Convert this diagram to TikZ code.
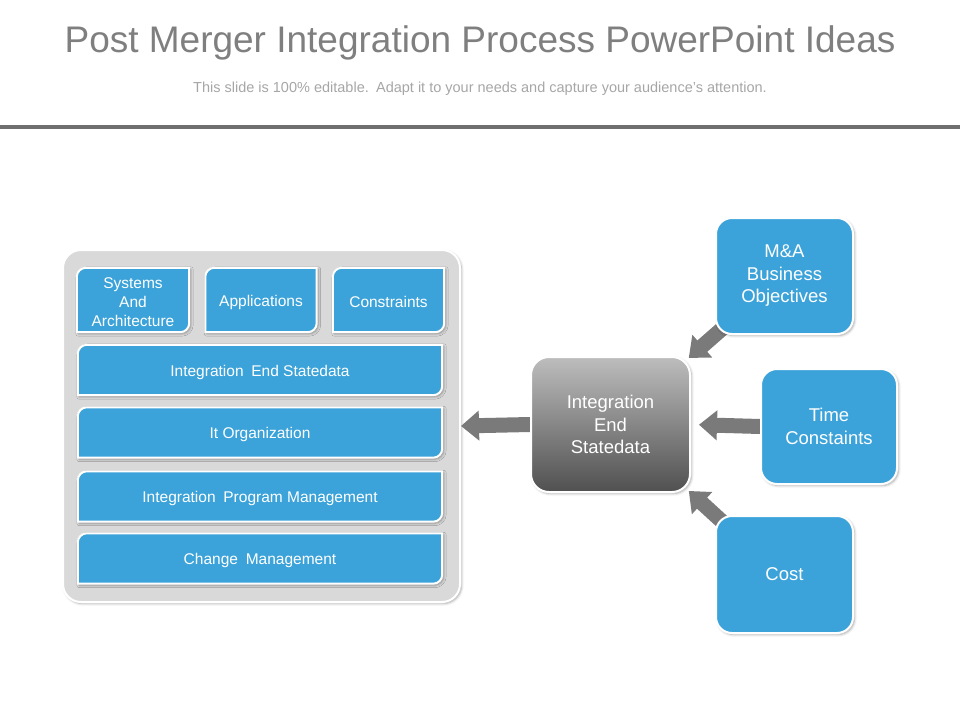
\documentclass[tikz,border=0pt]{standalone}
\usepackage{fontspec}
\setmainfont{Liberation Sans}
\usetikzlibrary{arrows.meta,shadows.blur,calc}
\pgfdeclarelayer{background}
\pgfsetlayers{background,main}
\definecolor{blu}{HTML}{3BA3D9}
\definecolor{panelgray}{HTML}{D9D9D9}
\definecolor{titlegray}{HTML}{7F7F7F}
\definecolor{subgray}{HTML}{A6A6A6}
\definecolor{rulegray}{HTML}{6F6F6F}
\definecolor{arrowgray}{HTML}{7A7A7A}
\definecolor{ctrtop}{HTML}{BDBDBD}
\definecolor{ctrbot}{HTML}{505050}
\tikzset{
  shadowed/.style={blur shadow={shadow xshift=1.5pt,shadow yshift=-1.5pt,shadow opacity=35,shadow blur radius=2.5pt}},
  lbl/.style={rectangle,text=white,align=center,inner sep=0pt,font=\fontsize{15.5}{19}\selectfont},
  bluefill/.style={fill=blu,draw=white,line width=2pt,shadowed},
  bigbox/.style={rectangle,rounded corners=16pt,fill=blu,draw=white,line width=2pt,shadowed,
    text=white,align=center,font=\fontsize{18.5}{22.5}\selectfont,minimum width=137pt,minimum height=116pt},
  ctrbox/.style={rectangle,rounded corners=18pt,top color=ctrtop,bottom color=ctrbot,draw=white,line width=2pt,shadowed,
    text=white,align=center,font=\fontsize{18.5}{22.5}\selectfont,minimum width=159pt,minimum height=135pt},
  panelbox/.style={rectangle,rounded corners=18pt,fill=panelgray,draw=white,line width=2pt,shadowed,
    minimum width=397pt,minimum height=352pt},
  arr/.style={draw=arrowgray,line width=15pt,-{Triangle[length=18pt,width=29pt]}},
}
% box with rounded top-left and bottom-right corners, drawn 2px above its text node
\newcommand\tlbrshape[2]{% node name, radius
  \path[bluefill] ($(#1.south west)+(0,-2)$) -- ($(#1.north west)+(0,#2-2)$) arc[start angle=180,end angle=270,radius=#2]
    -- ($(#1.north east)+(0,-2)$) -- ($(#1.south east)+(0,-#2-2)$) arc[start angle=0,end angle=90,radius=#2] -- cycle;}
\begin{document}
\begin{tikzpicture}[x=1pt,y=-1pt]
\useasboundingbox (0,0) rectangle (960,720);
% titles
\node[font=\fontsize{37}{40}\selectfont,text=titlegray,anchor=base,inner sep=0pt] (title) at (480,52) {Post Merger Integration Process PowerPoint Ideas};
\node[font=\fontsize{14.5}{16}\selectfont,text=subgray,anchor=base,inner sep=0pt] (subtitle) at (480,92.5) {This slide is 100\% editable.\enspace Adapt it to your needs and capture your audience's attention.};
\fill[rulegray] (0,125) rectangle (960,129);

% text nodes of left panel
\node[lbl,minimum width=112pt,minimum height=64pt] (sys) at (133,302) {Systems\\And\\Architecture};
\node[lbl,minimum width=111pt,minimum height=64pt] (app) at (261,302) {Applications};
\node[lbl,minimum width=111pt,minimum height=64pt] (con) at (388.5,302) {Constraints};
\node[lbl,minimum width=364pt,minimum height=50pt] (b1) at (260,372) {Integration\enspace End Statedata};
\node[lbl,minimum width=364pt,minimum height=50pt] (b2) at (260,434.5) {It Organization};
\node[lbl,minimum width=364pt,minimum height=50pt] (b3) at (260,498.5) {Integration\enspace Program Management};
\node[lbl,minimum width=364pt,minimum height=50pt] (b4) at (260,560.5) {Change\enspace Management};

% right side
\node[ctrbox] (ctr) at (610.5,424.5) {Integration\\End\\Statedata};
\node[bigbox] (ma) at (784.5,276) {M\&A\\Business\\Objectives};
\node[bigbox,minimum width=136pt,minimum height=115pt] (time) at (829,426.5) {Time\\Constaints};
\node[bigbox,minimum height=117pt] (cost) at (784.5,574.5) {Cost};

\begin{pgfonlayer}{background}
  \node[panelbox] (panel) at (261.5,426) {};
  \draw[arr] (ctr.west) -- (panel.east);
  \draw[arr,shorten >=8pt] (time.west) -- (ctr.east);
  \draw[arr,shorten <=-12pt,shorten >=-3pt] (ma.south west) -- (ctr.north east);
  \draw[arr,shorten <=-12pt,shorten >=-3pt] (cost.north west) -- (ctr.south east);
  \tlbrshape{sys}{9}
  \tlbrshape{app}{9}
  \tlbrshape{con}{9}
  \tlbrshape{b1}{9}
  \tlbrshape{b2}{9}
  \tlbrshape{b3}{9}
  \tlbrshape{b4}{9}
\end{pgfonlayer}
\end{tikzpicture}
\end{document}
